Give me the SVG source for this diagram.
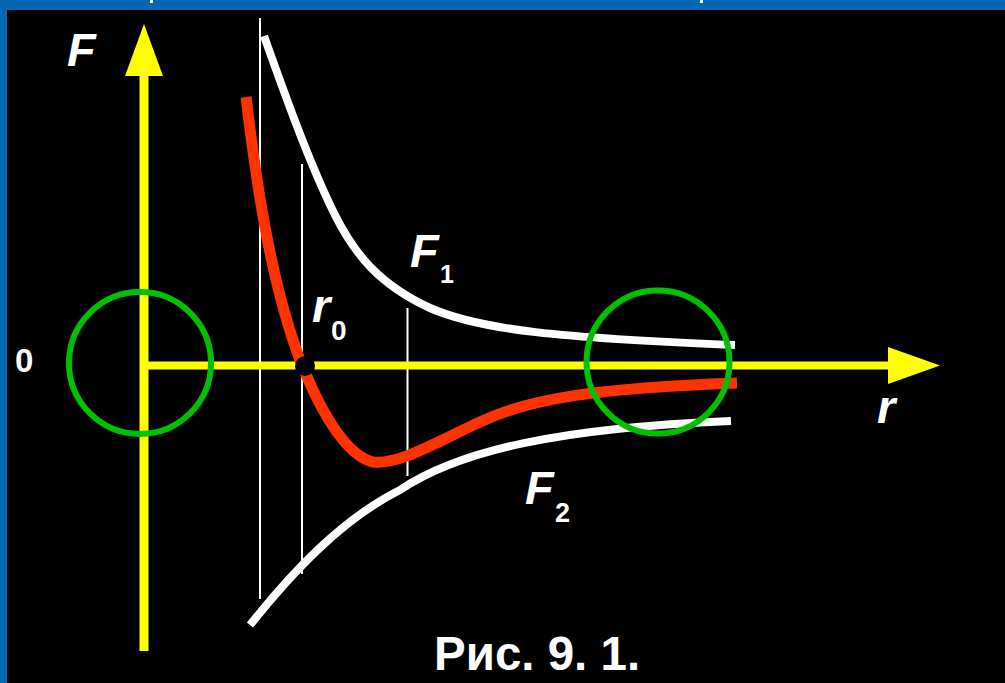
<svg xmlns="http://www.w3.org/2000/svg" width="1005" height="683" viewBox="0 0 1005 683">
  <style>
    .guide { stroke: #ffffff; stroke-width: 2; fill: none; }
    .axis { stroke: #ffff00; fill: none; }
    .head { fill: #ffff00; }
    .wcurve { stroke: #ffffff; stroke-width: 8; fill: none; }
    .rcurve { stroke: #ff3300; stroke-width: 11; fill: none; }
    .ring { stroke: #00c000; stroke-width: 6; fill: none; }
    .lbl { font-family: "Liberation Sans", Arial, sans-serif; font-weight: bold; fill: #ffffff; }
    .it { font-style: italic; font-size: 47px; }
  </style>
  <rect x="0" y="0" width="1005" height="683" fill="#000000"/>
  <rect x="0" y="0" width="1005" height="10" fill="#0068b0"/>
  <rect x="0" y="0" width="7" height="683" fill="#0068b0"/>
  <rect x="150" y="0" width="3" height="3" fill="#ffffff"/>
  <rect x="700" y="0" width="3" height="3" fill="#ffffff"/>

  <g id="guides">
    <line class="guide" x1="260" y1="18" x2="260" y2="599"/>
    <line class="guide" x1="302" y1="164" x2="302" y2="574"/>
    <line class="guide" x1="407.5" y1="308" x2="407.5" y2="476"/>
  </g>

  <g id="connectors">
    <g id="axis-F">
      <line class="axis" stroke-width="9" x1="144" y1="651" x2="144" y2="70"/>
      <polygon class="head" points="144,24 125,76 163,76"/>
    </g>
    <g id="axis-r">
      <line class="axis" stroke-width="8" x1="140" y1="365.5" x2="892" y2="365.5"/>
      <polygon class="head" points="940,365.5 888,347 888,384"/>
    </g>
  </g>

  <g id="curve-F1">
    <path class="wcurve" d="M264,36 C285,95 310,165 335,215 C355,255 380,285 430,308 C480,330 560,338 735,345"/>
  </g>
  <g id="curve-F2">
    <path class="wcurve" d="M250,625 C290,575 340,520 400,490 C460,450 560,428 731,421"/>
  </g>
  <g id="curve-F">
    <path class="rcurve" d="M246,97 C256,180 270,280 300,360 C320,410 345,455 373,462 C400,465 440,440 480,422 C530,398 600,388 737,383"/>
  </g>
  <g id="point-r0">
    <circle cx="305" cy="366" r="10" fill="#000000"/>
  </g>

  <g id="circle-origin">
    <circle class="ring" cx="140" cy="363" r="71"/>
  </g>
  <g id="circle-far">
    <circle class="ring" cx="658" cy="362" r="71.5"/>
  </g>

  <g id="labels">
    <text class="lbl it" x="67" y="66">F</text>
    <text class="lbl" x="15" y="372" font-size="33">0</text>
    <g id="label-F1">
      <text class="lbl it" x="410" y="267">F</text>
      <text class="lbl" x="440" y="283" font-size="25">1</text>
    </g>
    <g id="label-r0">
      <text class="lbl it" x="312" y="322">r</text>
      <text class="lbl" x="331" y="340" font-size="28">0</text>
    </g>
    <g id="label-F2">
      <text class="lbl it" x="525" y="504">F</text>
      <text class="lbl" x="555" y="522" font-size="27">2</text>
    </g>
    <text class="lbl it" x="877" y="423">r</text>
    <text class="lbl" x="434" y="670" font-size="47.5">Рис. 9. 1.</text>
  </g>
</svg>
